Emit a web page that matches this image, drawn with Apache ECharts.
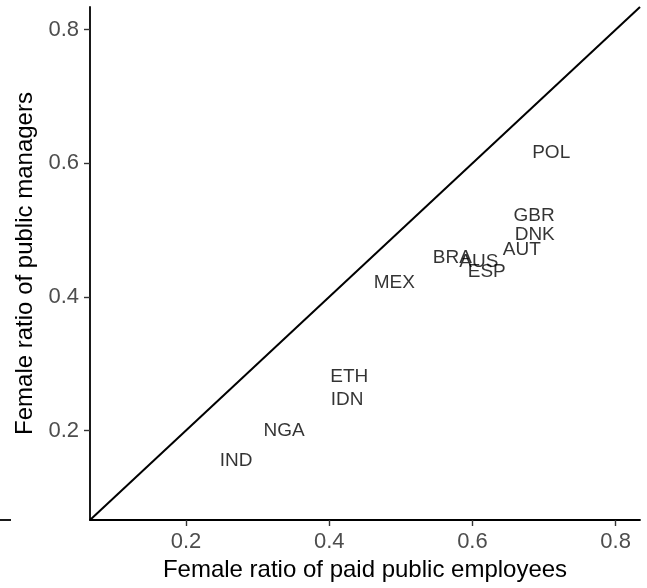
<!DOCTYPE html>
<html>
<head>
<meta charset="utf-8">
<script src="https://cdn.jsdelivr.net/npm/echarts@6/dist/echarts.min.js"></script>
<style>
  html, body { margin: 0; padding: 0; background: #fff; }
  #chart { width: 647px; height: 588px; }
</style>
</head>
<body>
<div id="chart"></div>
<script>
// country codes and their ratios
let countries = ["POL", "GBR", "DNK", "AUT", "BRA", "AUS", "ESP", "MEX", "ETH", "IDN", "NGA", "IND"];
let paidRatio = [0.710, 0.686, 0.687, 0.669, 0.572, 0.609, 0.620, 0.491, 0.428, 0.425, 0.337, 0.270];
let managerRatio = [0.616, 0.522, 0.493, 0.471, 0.459, 0.453, 0.438, 0.421, 0.281, 0.246, 0.199, 0.154];
let axisRange = [0.066, 0.834];
let tickLabels = [0.2, 0.4, 0.6, 0.8];

let dom = document.getElementById("chart");
let myChart = echarts.init(dom, null, { renderer: "canvas" });

let font = "Liberation Sans";
let points = countries.map((c, i) => ({ value: [paidRatio[i], managerRatio[i]], name: c }));

let axisCommon = {
  type: "value",
  min: axisRange[0],
  max: axisRange[1],
  nameLocation: "middle",
  nameTextStyle: { fontFamily: font, fontSize: 24, color: "#000" },
  axisLine: { show: true, lineStyle: { color: "#000", width: 1.8 } },
  splitLine: { show: false },
  axisLabel: {
    fontFamily: font,
    fontSize: 22,
    color: "#4D4D4D",
    margin: 11,
    customValues: tickLabels,
    formatter: v => String(v)
  },
  axisTick: { show: true, length: 6, customValues: tickLabels, lineStyle: { color: "#333", width: 1.4 } }
};

let option = {
  animation: false,
  backgroundColor: "#fff",
  grid: { left: 90, right: 7, top: 7, bottom: 68, containLabel: false },
  xAxis: Object.assign({}, axisCommon, {
    name: "Female ratio of paid public employees",
    nameGap: 35
  }),
  yAxis: Object.assign({}, axisCommon, {
    name: "Female ratio of public managers",
    nameGap: 52
  }),
  graphic: [
    {
      type: "line",
      shape: { x1: 0, y1: 520, x2: 11, y2: 520 },
      style: { stroke: "#000", lineWidth: 1.8 }
    }
  ],
  series: [
    {
      // 45 degree reference line
      type: "line",
      data: [[axisRange[0], axisRange[0]], [axisRange[1], axisRange[1]]],
      symbol: "none",
      lineStyle: { color: "#000", width: 2 },
      silent: true
    },
    {
      type: "scatter",
      data: points,
      symbolSize: 1,
      itemStyle: { color: "rgba(0,0,0,0)" },
      label: {
        show: true,
        position: "inside",
        offset: [0, 1.5],
        formatter: p => p.name,
        fontFamily: font,
        fontSize: 19,
        color: "#000"
      },
      labelLayout: { hideOverlap: false }
    }
  ]
};

myChart.setOption(option);
window.addEventListener("resize", myChart.resize);
</script>
</body>
</html>
